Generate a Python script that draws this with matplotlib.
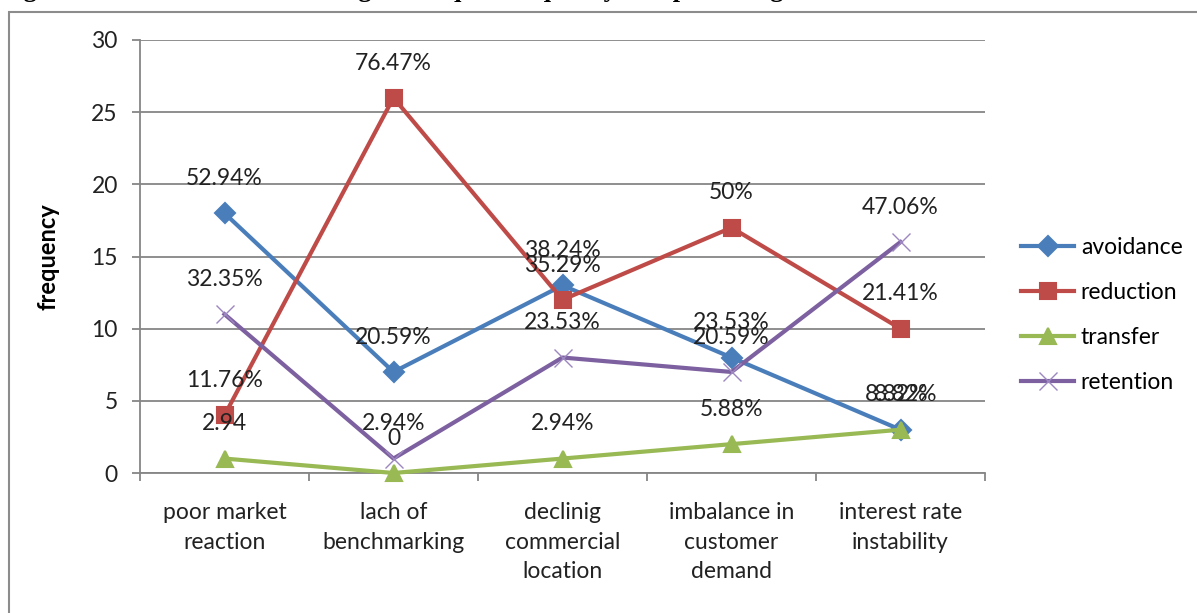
import matplotlib
matplotlib.use("Agg")
import matplotlib.pyplot as plt
from matplotlib.patches import Rectangle

categories = ["poor market\nreaction", "lach of\nbenchmarking", "declinig\ncommercial\nlocation",
              "imbalance in\ncustomer\ndemand", "interest rate\ninstability"]
avoidance = [18, 7, 13, 8, 3]
reduction = [4, 26, 12, 17, 10]
transfer = [1, 0, 1, 2, 3]
retention = [11, 1, 8, 7, 16]
avoidance_lbl = ["52.94%", "20.59%", "38.24%", "23.53%", "8.82%"]
reduction_lbl = ["11.76%", "76.47%", "35.29%", "50%", "21.41%"]
transfer_lbl = ["2.94", "0", "2.94%", "5.88%", "8.82%"]
retention_lbl = ["32.35%", "2.94%", "23.53%", "20.59%", "47.06%"]
yticks = [0, 5, 10, 15, 20, 25, 30]

FONT = "Lato"
FS = 16.5
W, H = 1197, 613
fig = plt.figure(figsize=(W / 100, H / 100), dpi=100)
fig.patch.set_facecolor("white")

# outer border of chart object
fig.add_artist(Rectangle((9 / W, -0.05), 1.2, (H - 12) / H + 0.05, transform=fig.transFigure,
                         fill=False, edgecolor="#8c8c8c", linewidth=1.5))
# caption (clipped at top)
fig.text(0.0, 1 + 3.5 / H, "Figure 4.6: Market risk handling techniques frequency and percentages",
         fontsize=19, fontweight="bold", family="Liberation Serif", va="baseline", ha="left")

ax = fig.add_axes([140 / W, (H - 473) / H, (985 - 140) / W, (473 - 40) / H])
ax.set_xlim(-0.5, 4.5)
ax.set_ylim(0, 30)
x = list(range(len(categories)))

grid_c = "#868686"
for s in ["top", "right"]:
    ax.spines[s].set_visible(False)
for s in ["left", "bottom"]:
    ax.spines[s].set_color(grid_c)
    ax.spines[s].set_linewidth(1.3)
ax.set_yticks(yticks)
ax.yaxis.grid(True, color=grid_c, linewidth=1.3)
ax.set_axisbelow(True)
ax.tick_params(axis="y", length=6, width=1.3, color=grid_c, pad=10, labelsize=FS, labelcolor="#222222")
ax.set_xticks([i - 0.5 for i in range(len(categories) + 1)])
ax.set_xticklabels([])
ax.set_xticks(x, minor=True)
ax.set_xticklabels(categories, minor=True, fontsize=FS, linespacing=1.5, color="#222222", family=FONT)
ax.tick_params(axis="x", which="major", length=6, width=1.3, color=grid_c, direction="out")
ax.tick_params(axis="x", which="minor", length=0, pad=21)
for t in ax.get_yticklabels():
    t.set_family(FONT)

series = [
    ("avoidance", avoidance, avoidance_lbl, "#4A7EBB", "D", 10, 1.5),
    ("reduction", reduction, reduction_lbl, "#BE4B48", "s", 12, 1.5),
    ("transfer", transfer, transfer_lbl, "#98B954", "^", 12, 1.5),
    ("retention", retention, retention_lbl, "#7D60A0", "x", 13, 1.0),
]
handles = []
for name, vals, lbls, col, mk, ms, mew in series:
    mec = col if mk != "x" else "#9d87c0"
    ln, = ax.plot(x, vals, color=col, linewidth=3, marker=mk, markersize=ms,
                  markerfacecolor=col, markeredgecolor=mec, markeredgewidth=mew,
                  label=name, clip_on=False, zorder=3)
    handles.append(ln)

# data labels
for name, vals, lbls, col, mk, ms, mew in series:
    for i, (v, l) in enumerate(zip(vals, lbls)):
        dx = 0
        if i == 4 and name == "avoidance":
            dx = -3
        if i == 4 and name == "transfer":
            dx = 4
        ax.annotate(l, (i, v), xytext=(dx, 25), textcoords="offset points",
                    ha="center", va="center", fontsize=FS, family=FONT, color="#222222",
                    annotation_clip=False, zorder=4)

ax.set_ylabel("frequency", fontsize=17, fontweight="bold", family=FONT)
ax.yaxis.set_label_coords(-80 / (985 - 140), 0.5)

leg = fig.legend(handles=handles, loc="upper left", bbox_to_anchor=(1012 / W, 1 - 228 / H),
                 frameon=False, prop={"family": FONT, "size": FS}, handlelength=2.3,
                 handletextpad=0.3, labelspacing=1.05, borderaxespad=0)

fig.savefig("out.png", dpi=100)
